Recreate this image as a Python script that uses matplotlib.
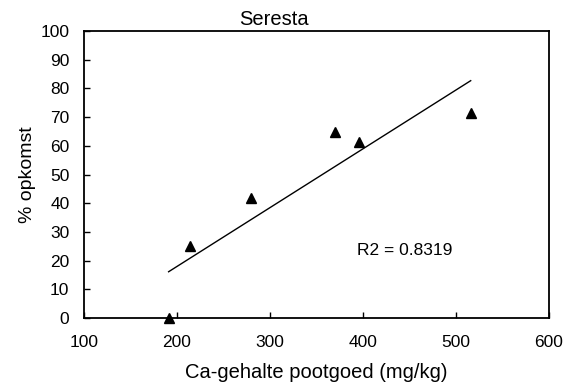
import numpy as np
import matplotlib
matplotlib.use("Agg")
import matplotlib.pyplot as plt

plt.rcParams['font.family'] = ['Liberation Sans', 'DejaVu Sans']

ca = [191, 214, 280, 370, 396, 516]
opkomst = [0, 25, 42, 65, 61.5, 71.5]
xticks = [100, 200, 300, 400, 500, 600]
yticks = [0, 10, 20, 30, 40, 50, 60, 70, 80, 90, 100]
title = "Seresta"
xlabel = "Ca-gehalte pootgoed (mg/kg)"
ylabel = "% opkomst"
r2_text = "R2 = 0.8319"

fig = plt.figure(figsize=(5.64, 3.89), dpi=100)
ax = fig.add_axes([0.149, 0.1825, 0.824, 0.7375])

slope, intercept = np.polyfit(ca, opkomst, 1)
xs = np.array([min(ca), max(ca)])
ax.plot(xs, slope * xs + intercept, color='black', lw=1.0, zorder=2)
ax.plot(ca, opkomst, linestyle='none', marker='^', color='black', markersize=6.5, zorder=3, clip_on=False)

ax.set_xlim(100, 600)
ax.set_ylim(0, 100)
ax.set_xticks(xticks)
ax.set_yticks(yticks)
ax.tick_params(direction='in', length=4, width=1, labelsize=12.5, colors='black')
ax.tick_params(axis='x', pad=12.5)
ax.tick_params(axis='y', pad=10.5)
for s in ax.spines.values():
    s.set_linewidth(1.3)

ax.text(394, 23.5, r2_text, ha='left', va='center', fontsize=12.5)
ax.set_xlabel(xlabel, fontsize=14.5, labelpad=9)
ax.set_ylabel(ylabel, fontsize=14, labelpad=3.5)
fig.text(0.486, 0.95, title, ha='center', va='center', fontsize=14.5)

fig.savefig("out.png", dpi=100)
